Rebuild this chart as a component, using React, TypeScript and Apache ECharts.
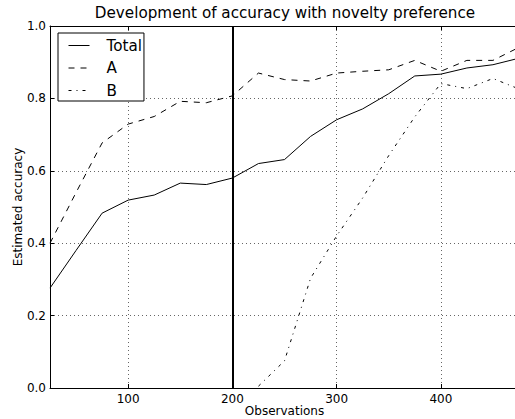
import React, { useEffect, useRef } from "react";
import * as echarts from "echarts";

const observations = [25, 50, 75, 100, 125, 150, 175, 200, 225, 250, 275, 300, 325, 350, 375, 400, 425, 450, 475];
const totalValues = [0.276, 0.38, 0.483, 0.519, 0.533, 0.566, 0.562, 0.58, 0.62, 0.631, 0.695, 0.741, 0.771, 0.813, 0.862, 0.867, 0.884, 0.893, 0.911];
const aValues = [0.4, 0.54, 0.677, 0.729, 0.75, 0.792, 0.788, 0.807, 0.87, 0.852, 0.848, 0.87, 0.875, 0.879, 0.905, 0.875, 0.905, 0.905, 0.941];
const bValues: (number | null)[] = [null, null, null, null, null, null, null, null, 0.005, 0.075, 0.303, 0.42, 0.525, 0.642, 0.749, 0.841, 0.827, 0.855, 0.826];
const seriesNames = ["Total", "A", "B"];
const markerObservation = 200;
const titleText = "Development of accuracy with novelty preference";
const xName = "Observations";
const yName = "Estimated accuracy";

const FONT = "DejaVu Sans";

export default function App() {
  const ref = useRef<HTMLDivElement>(null);
  useEffect(() => {
    if (!ref.current) return;
    const chart = echarts.init(ref.current, null, { renderer: "svg" });
    const pair = (vals: (number | null)[]) => observations.map((x, i) => [x, vals[i]]);
    const grid = { left: 50, top: 26, right: 11, bottom: 31, outerBoundsMode: "none", containLabel: false };
    const gridLine = { color: "rgba(0,0,0,0.6)", width: 1, type: [1, 3] };
    chart.setOption({
      animation: false,
      backgroundColor: "#fff",
      title: {
        text: titleText,
        left: 285,
        textAlign: "center",
        top: 5,
        padding: 0,
        textStyle: { fontFamily: FONT, fontSize: 15.2, fontWeight: "normal", color: "#000" },
      },
      legend: {
        data: seriesNames,
        orient: "vertical",
        left: 58,
        top: 33,
        padding: [5, 2, 3, 10],
        itemGap: 7.5,
        itemWidth: 21,
        itemHeight: 14,
        borderColor: "#000",
        borderWidth: 1,
        borderRadius: 0,
        backgroundColor: "#fff",
        itemStyle: { opacity: 0, borderWidth: 0 },
        lineStyle: { width: 1, color: "#000" },
        formatter: (n: string) => "{g|}" + n,
        textStyle: {
          fontFamily: FONT,
          fontSize: 15.2,
          color: "#000",
          rich: { g: { width: 12 } },
        },
      },
      grid,
      xAxis: [
        {
          type: "value",
          min: 25,
          max: 475,
          name: xName,
          nameLocation: "middle",
          nameGap: 17,
          nameMoveOverlap: false,
          nameTextStyle: { fontFamily: FONT, fontSize: 12, color: "#000" },
          axisLine: { show: true, onZero: false, lineStyle: { color: "#000", width: 1 } },
          axisTick: { show: true, inside: true, length: 4, lineStyle: { color: "#000" } },
          axisLabel: {
            showMinLabel: false,
            showMaxLabel: false,
            margin: 5,
            fontFamily: FONT,
            fontSize: 12,
            color: "#000",
          },
          splitLine: { show: true, lineStyle: gridLine },
        },
        {
          type: "value",
          position: "top",
          min: 25,
          max: 475,
          axisLine: { show: true, onZero: false, lineStyle: { color: "#000", width: 1 } },
          axisTick: { show: true, inside: true, length: 4, lineStyle: { color: "#000" } },
          axisLabel: { show: false },
          splitLine: { show: false },
        },
      ],
      yAxis: {
        type: "value",
        min: 0,
        max: 1,
        interval: 0.2,
        name: yName,
        nameLocation: "middle",
        nameGap: 26,
        nameMoveOverlap: false,
        nameTextStyle: { fontFamily: FONT, fontSize: 12, color: "#000" },
        axisLine: { show: true, onZero: false, lineStyle: { color: "#000", width: 1 } },
        axisTick: { show: true, inside: true, length: 4, lineStyle: { color: "#000" } },
        axisLabel: {
          margin: 4,
          fontFamily: FONT,
          fontSize: 12,
          color: "#000",
          formatter: (v: number) => v.toFixed(1),
        },
        splitLine: { show: true, lineStyle: gridLine },
      },
      series: [
        {
          name: seriesNames[0],
          type: "line",
          data: pair(totalValues),
          symbol: "none",
          showSymbol: false,
          color: "#000",
          lineStyle: { color: "#000", width: 1, type: "solid" },
          markLine: {
            silent: true,
            symbol: "none",
            label: { show: false },
            lineStyle: { color: "#000", width: 2, type: "solid" },
            data: [{ xAxis: markerObservation }],
          },
        },
        {
          name: seriesNames[1],
          type: "line",
          data: pair(aValues),
          symbol: "none",
          showSymbol: false,
          color: "#000",
          lineStyle: { color: "#000", width: 1, type: [6, 6] },
        },
        {
          name: seriesNames[2],
          type: "line",
          data: pair(bValues),
          symbol: "none",
          showSymbol: false,
          color: "#000",
          lineStyle: { color: "#000", width: 1, type: [3, 5, 1, 5] },
        },
      ],
    });
    return () => chart.dispose();
  }, []);
  return (
    <div
      style={{
        position: "fixed",
        left: 0,
        top: 0,
        width: 515,
        height: 419,
        overflow: "hidden",
        background: "#fff",
      }}
    >
      <div ref={ref} style={{ width: 530, height: 419 }} />
    </div>
  );
}
